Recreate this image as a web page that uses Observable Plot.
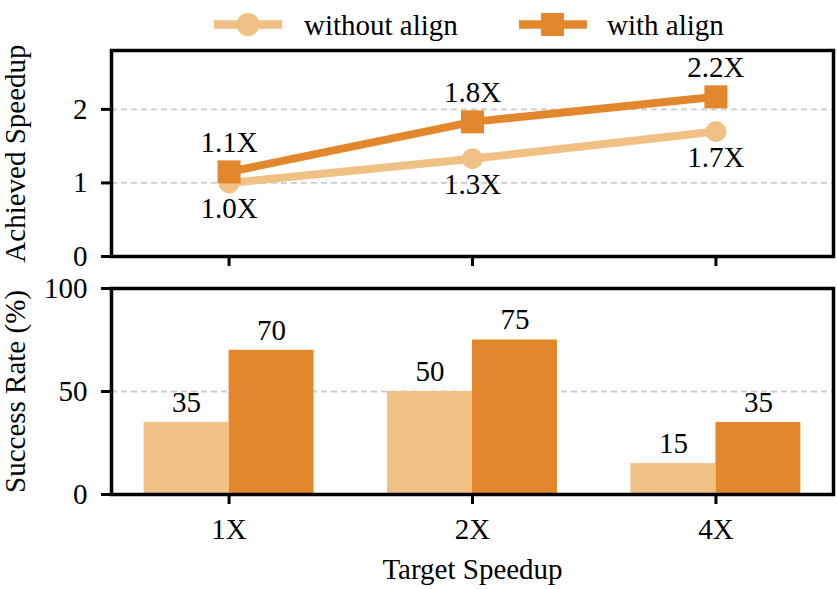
<!DOCTYPE html>
<html>
<head>
<meta charset="utf-8">
<script src="https://cdn.jsdelivr.net/npm/d3@7"></script>
<script src="https://cdn.jsdelivr.net/npm/@observablehq/plot@0.6"></script>
<style>
  html, body { margin: 0; padding: 0; background: #fff; }
  #wrap { position: relative; width: 837px; height: 589px; background: #fff; overflow: hidden; }
  #wrap > * { position: absolute; left: 0; }
  #legend { top: 0; }
  #topPanel { top: 0; }
  #bottomPanel { top: 272px; }
  svg text { font-family: "Liberation Serif", "Times New Roman", serif; font-size: 29px; }
</style>
</head>
<body>
<div id="wrap">
  <div id="topPanel"></div>
  <div id="bottomPanel"></div>
  <svg id="legend" width="837" height="50"></svg>
</div>
<script>
// ---- data ----
const targets = ["1X", "2X", "4X"];
const seriesNames = ["without align", "with align"];
const speedupWithout = [1.0, 1.33, 1.70];
const speedupWith = [1.15, 1.83, 2.17];
const speedupLabelsWithout = ["1.0X", "1.3X", "1.7X"];
const speedupLabelsWith = ["1.1X", "1.8X", "2.2X"];
const successWithout = [35, 50, 15];
const successWith = [70, 75, 35];
const speedupTicks = [0, 1, 2];
const successTicks = [0, 50, 100];

// ---- style ----
const LIGHT = "#F1C084";
const DARK = "#E3872D";
const GRID = "#cccccc";
const FONT = "'Liberation Serif', 'Times New Roman', serif";

const rowsWithout = targets.map((t, i) => ({t, v: speedupWithout[i], label: speedupLabelsWithout[i]}));
const rowsWith = targets.map((t, i) => ({t, v: speedupWith[i], label: speedupLabelsWith[i]}));
const barsWithout = targets.map((t, i) => ({t, v: successWithout[i]}));
const barsWith = targets.map((t, i) => ({t, v: successWith[i]}));

const xScale = {type: "band", domain: targets, paddingInner: 0.302, paddingOuter: 0.134, round: false};
const common = {
  width: 837,
  marginLeft: 111,
  marginRight: 4,
  style: {fontFamily: FONT, fontSize: "29px", color: "black", background: "transparent", overflow: "visible"}
};
const intFormat = d => String(d);

const topChart = Plot.plot({
  ...common,
  height: 272,
  marginTop: 50,
  marginBottom: 16,
  x: xScale,
  y: {domain: [0, 2.8]},
  marks: [
    Plot.ruleY([1, 2], {stroke: GRID, strokeWidth: 1.8, strokeDasharray: "6,4"}),
    Plot.line(rowsWithout, {x: "t", y: "v", stroke: LIGHT, strokeWidth: 8}),
    Plot.dot(rowsWithout, {x: "t", y: "v", r: 10.5, fill: LIGHT, symbol: "circle"}),
    Plot.line(rowsWith, {x: "t", y: "v", stroke: DARK, strokeWidth: 8}),
    Plot.dot(rowsWith, {x: "t", y: "v", r: 13, fill: DARK, symbol: "square"}),
    Plot.text(rowsWithout, {x: "t", y: "v", text: "label", dy: 26, lineAnchor: "middle", fill: "black"}),
    Plot.text(rowsWith, {x: "t", y: "v", text: "label", dy: -29.5, lineAnchor: "middle", fill: "black"}),
    Plot.axisY({ticks: speedupTicks, tickFormat: intFormat, tickSize: 10, tickPadding: 14, strokeWidth: 3, label: null, fill: "black"}),
    Plot.axisX({tickSize: 10, tickFormat: () => "", strokeWidth: 3, label: null}),
    Plot.text(["Achieved Speedup"], {frameAnchor: "left", dx: -96, rotate: -90, textAnchor: "middle", lineAnchor: "middle", fill: "black"}),
    Plot.frame({stroke: "black", strokeWidth: 3.5})
  ]
});
document.getElementById("topPanel").appendChild(topChart);

const bottomChart = Plot.plot({
  ...common,
  height: 317,
  marginTop: 16,
  marginBottom: 95,
  x: xScale,
  y: {domain: [0, 100]},
  marks: [
    Plot.ruleY([50], {stroke: GRID, strokeWidth: 1.8, strokeDasharray: "6,4"}),
    Plot.barY(barsWithout, {x: "t", y: "v", fill: LIGHT, insetLeft: 0, insetRight: 85}),
    Plot.barY(barsWith, {x: "t", y: "v", fill: DARK, insetLeft: 85, insetRight: 0}),
    Plot.text(barsWithout, {x: "t", y: "v", text: "v", dx: -42.5, dy: -20, lineAnchor: "middle", fill: "black"}),
    Plot.text(barsWith, {x: "t", y: "v", text: "v", dx: 42.5, dy: -20, lineAnchor: "middle", fill: "black"}),
    Plot.axisY({ticks: successTicks, tickFormat: intFormat, tickSize: 10, tickPadding: 14, strokeWidth: 3, label: null, fill: "black"}),
    Plot.axisX({tickSize: 10, tickPadding: 14, strokeWidth: 3, label: null, fill: "black"}),
    Plot.text(["Success Rate (%)"], {frameAnchor: "left", dx: -96, rotate: -90, textAnchor: "middle", lineAnchor: "middle", fill: "black"}),
    Plot.text(["Target Speedup"], {frameAnchor: "bottom", dy: 64, lineAnchor: "top", textAnchor: "middle", fill: "black"}),
    Plot.frame({stroke: "black", strokeWidth: 3.5})
  ]
});
document.getElementById("bottomPanel").appendChild(bottomChart);

// ---- legend ----
const lg = d3.select("#legend");
const item1 = lg.append("g");
item1.append("line").attr("x1", 214).attr("x2", 282).attr("y1", 24.5).attr("y2", 24.5).attr("stroke", LIGHT).attr("stroke-width", 8.5);
item1.append("circle").attr("cx", 248).attr("cy", 24.5).attr("r", 11.5).attr("fill", LIGHT);
item1.append("text").attr("x", 304).attr("y", 35).text(seriesNames[0]);
const item2 = lg.append("g");
item2.append("line").attr("x1", 519).attr("x2", 587).attr("y1", 24.5).attr("y2", 24.5).attr("stroke", DARK).attr("stroke-width", 8.5);
item2.append("rect").attr("x", 541).attr("y", 13).attr("width", 23).attr("height", 23).attr("fill", DARK);
item2.append("text").attr("x", 607).attr("y", 35).text(seriesNames[1]);
</script>
</body>
</html>
